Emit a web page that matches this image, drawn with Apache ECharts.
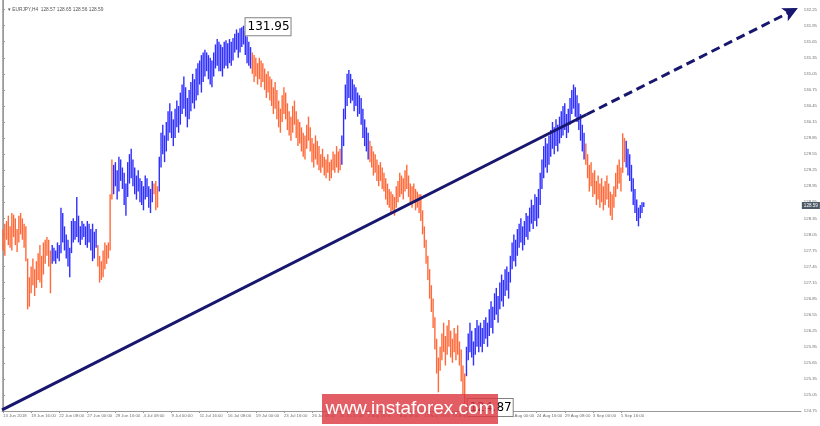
<!DOCTYPE html>
<html><head><meta charset="utf-8">
<script src="https://cdn.jsdelivr.net/npm/echarts@6/dist/echarts.min.js"></script>
<style>html,body{margin:0;padding:0;background:#fff}#c{width:820px;height:426px}</style>
</head><body><div id="c"></div>
<script>
const symbolName = 'EURJPY,H4';
const lastBar = [128.57, 128.65, 128.56, 128.59]; // open high low close
const tickLabels = ["13 Jun 2018","19 Jun 16:00","22 Jun 08:00","27 Jun 00:00","29 Jun 16:00","4 Jul 08:00","9 Jul 00:00","11 Jul 16:00","16 Jul 08:00","19 Jul 00:00","23 Jul 16:00","26 Jul 08:00","31 Jul 00:00","2 Aug 16:00","7 Aug 08:00","10 Aug 00:00","14 Aug 16:00","17 Aug 08:00","22 Aug 00:00","24 Aug 16:00","29 Aug 08:00","3 Sep 00:00","5 Sep 16:00"];
const barsPerLabel = 16;
const priceTicks = [124.75,125.05,125.35,125.65,125.95,126.25,126.55,126.85,127.15,127.45,127.75,128.05,128.35,128.65,128.95,129.25,129.55,129.85,130.15,130.45,130.75,131.05,131.35,131.65,131.95,132.25];
const lows = [
127.75,127.65,127.95,127.85,127.80,127.75,128.00,127.85,127.72,127.90,
128.05,127.95,127.80,127.55,126.65,126.70,126.95,127.10,126.90,127.05,
127.20,127.15,127.05,127.30,127.50,127.65,127.45,126.95,127.50,127.55,
127.50,127.60,127.55,127.70,127.90,127.75,127.60,127.45,127.25,127.70,
127.90,127.95,128.00,127.90,127.85,127.95,128.00,127.85,127.80,127.90,
127.75,127.55,127.60,127.80,127.45,127.15,127.20,127.25,127.40,127.50,
127.60,127.75,128.70,128.80,128.95,128.70,128.85,129.05,128.90,128.60,
128.40,128.75,129.00,129.10,128.95,128.80,128.70,128.85,128.65,128.60,
128.50,128.70,128.75,128.55,128.45,128.65,128.80,128.50,128.55,128.85,
129.30,129.55,129.40,129.60,129.80,129.95,129.85,129.70,129.85,130.05,
129.95,130.10,130.30,130.40,130.25,130.05,130.20,130.35,130.50,130.40,
130.55,130.65,130.85,130.70,130.90,131.00,131.10,130.95,130.85,130.80,
131.00,131.15,131.20,131.10,131.10,131.00,131.15,131.20,131.15,131.25,
131.20,131.30,131.45,131.50,131.35,131.45,131.55,131.60,131.40,131.25,
131.20,131.15,131.05,130.90,131.00,130.85,130.95,130.80,130.90,130.75,
130.60,130.70,130.55,130.45,130.30,130.40,130.20,130.05,129.95,130.15,
130.30,130.20,130.00,129.90,129.80,129.95,130.10,129.85,129.70,129.75,
129.60,129.50,129.45,129.65,129.80,129.60,129.40,129.30,129.45,129.35,
129.25,129.20,129.30,129.15,129.10,129.20,129.05,129.10,129.25,129.20,
129.30,129.20,129.25,129.35,129.70,130.20,130.45,130.60,130.50,130.55,
130.35,130.45,130.25,130.30,130.10,129.85,129.70,129.60,129.45,129.40,
129.30,129.15,129.20,129.05,128.95,129.05,128.90,128.85,128.70,128.60,
128.55,128.45,128.50,128.40,128.55,128.65,128.75,128.80,128.70,128.85,
128.90,128.75,128.60,128.55,128.65,128.50,128.55,128.45,128.30,128.05,
127.80,127.50,127.20,126.85,126.60,126.30,125.90,125.45,125.10,125.50,
125.70,125.85,125.60,125.80,125.95,125.75,125.65,125.85,125.70,125.80,
125.60,125.30,125.05,124.87,125.40,125.70,125.85,125.75,125.60,125.80,
125.95,125.85,125.95,125.85,126.00,126.10,125.95,126.15,126.30,126.20,
126.45,126.55,126.40,126.65,126.80,126.70,126.90,127.00,126.85,127.15,
127.40,127.55,127.45,127.65,127.80,127.90,127.75,127.85,128.00,127.95,
128.10,128.25,128.15,128.30,128.20,128.35,128.60,128.90,129.10,129.30,
129.20,129.35,129.50,129.65,129.55,129.70,129.60,129.75,129.85,129.90,
130.00,129.85,129.95,130.10,130.30,130.40,130.25,130.15,130.00,129.80,
129.60,129.45,129.35,129.10,128.85,128.95,128.75,128.80,128.60,128.70,
128.55,128.65,128.50,128.60,128.70,128.55,128.40,128.32,128.55,128.75,
128.90,129.00,128.85,129.20,129.40,129.30,129.15,129.05,128.85,128.60,
128.45,128.30,128.20,128.35,128.45,128.56];
const highs = [
128.15,128.25,128.30,128.40,128.20,128.45,128.42,128.35,128.15,128.40,
128.45,128.35,128.25,128.20,127.60,127.25,127.45,127.60,127.40,127.55,
127.70,127.85,127.65,127.90,127.95,128.00,127.95,127.75,127.85,127.80,
127.75,127.90,127.85,128.55,128.45,128.20,128.05,127.95,127.80,128.30,
128.35,128.30,128.75,128.40,128.20,128.30,128.25,128.20,128.30,128.25,
128.15,128.25,128.10,128.15,127.85,127.65,127.55,127.75,127.90,127.85,
127.90,128.80,129.45,129.35,129.40,129.25,129.50,129.45,129.30,129.20,
129.00,129.40,129.55,129.65,129.45,129.30,129.15,129.25,129.10,129.05,
128.95,129.15,129.10,128.95,128.90,129.05,129.00,129.05,128.95,129.50,
129.95,130.10,129.90,130.15,130.35,130.50,130.35,130.20,130.40,130.55,
130.45,130.70,130.85,131.00,130.80,130.60,130.75,130.90,131.05,130.95,
131.15,131.25,131.30,131.40,131.45,131.50,131.45,131.40,131.35,131.30,
131.45,131.60,131.70,131.65,131.60,131.55,131.65,131.68,131.62,131.70,
131.65,131.72,131.80,131.88,131.82,131.90,131.92,131.95,131.85,131.75,
131.65,131.55,131.45,131.40,131.35,131.25,131.35,131.30,131.25,131.15,
131.05,131.10,131.00,130.95,130.80,130.90,130.75,130.55,130.40,130.65,
130.80,130.70,130.50,130.35,130.25,130.45,130.55,130.35,130.20,130.15,
130.05,129.95,129.90,130.10,130.25,130.05,129.85,129.75,129.90,129.80,
129.70,129.55,129.65,129.50,129.45,129.55,129.40,129.45,129.60,129.55,
129.70,129.60,129.65,129.90,130.40,130.85,131.05,131.12,131.05,130.95,
130.85,130.80,130.70,130.65,130.60,130.40,130.20,130.05,129.95,129.80,
129.70,129.60,129.55,129.45,129.35,129.40,129.30,129.20,129.10,129.00,
128.90,128.85,128.80,128.75,128.95,129.05,129.20,129.15,129.10,129.25,
129.35,129.15,129.00,128.95,129.00,128.90,128.85,128.80,128.80,128.50,
128.20,127.95,127.65,127.40,127.10,126.85,126.50,126.10,125.75,125.95,
126.20,126.40,126.15,126.35,126.45,126.25,126.10,126.30,126.20,126.35,
126.05,125.90,125.60,125.45,125.95,126.20,126.40,126.25,126.05,126.30,
126.45,126.35,126.40,126.30,126.45,126.50,126.40,126.65,126.80,126.70,
126.95,127.05,126.90,127.15,127.30,127.20,127.40,127.45,127.35,127.65,
127.90,128.05,127.95,128.15,128.25,128.35,128.20,128.30,128.45,128.40,
128.55,128.70,128.60,128.80,128.75,128.90,129.20,129.45,129.70,129.85,
129.75,129.90,130.00,130.15,130.05,130.20,130.10,130.25,130.35,130.45,
130.50,130.30,130.40,130.60,130.75,130.85,130.80,130.65,130.50,130.30,
130.10,129.95,129.75,129.55,129.35,129.40,129.20,129.25,129.05,129.15,
129.00,129.10,128.95,129.05,129.15,129.00,128.85,128.80,128.95,129.20,
129.35,129.45,129.30,129.94,129.85,129.80,129.65,129.55,129.35,129.10,
128.90,128.70,128.55,128.60,128.65,128.65];
// wave segments: [first bar, last bar, direction]
const waves = [[0,27,'down'],[28,53,'up'],[54,62,'down'],[63,85,'up'],[86,88,'down'],[89,141,'up'],[142,192,'down'],[193,208,'up'],[209,263,'down'],[264,331,'up'],[332,354,'down'],[355,365,'up']];
// trend line points: [bar index, price]; solid to the 2nd point, dashed with arrow to the 3rd
const trendLine = [[-0.57,124.77],[332.4,130.29],[452.8,132.28]];
const extremes = [[137,131.95],[263,124.87]];

const BLUE = '#2f2fff', ORANGE = '#ff6a3a', NAVY = '#17176f';
const dirOf = new Array(lows.length).fill(0);
waves.forEach(w => { for (let i = w[0]; i <= w[1]; i++) dirOf[i] = w[2] === 'up' ? 1 : 0; });
const barData = lows.map((l, i) => [i, l, highs[i], dirOf[i]]);
const labelIdx = tickLabels.map((_, k) => k * barsPerLabel);
const lastClose = lastBar[3];

const chart = echarts.init(document.getElementById('c'), null, {renderer: 'canvas'});
const axisFont = {fontSize: 4.3, color: '#6f6f6f', fontFamily: 'Liberation Sans'};
chart.setOption({
  animation: false,
  backgroundColor: '#fff',
  title: {
    text: '\u25BE ' + symbolName + '  ' + lastBar.map(v => v.toFixed(2)).join(' '),
    left: 3, top: 2,
    textStyle: {fontSize: 4.8, color: '#555', fontWeight: 'normal', fontFamily: 'Liberation Sans'}
  },
  grid: {left: 2, right: 17, top: 0, bottom: 15},
  xAxis: {
    type: 'value', min: -0.6, max: 454.5,
    splitLine: {show: false},
    axisLine: {show: true, onZero: false, lineStyle: {color: '#9a9a9a', width: 1}},
    axisTick: {show: true, customValues: labelIdx, length: 2, lineStyle: {color: '#9a9a9a'}},
    axisLabel: Object.assign({customValues: labelIdx, formatter: v => tickLabels[Math.round(v / barsPerLabel)] || '', align: 'left', margin: 3}, axisFont)
  },
  yAxis: [{
    type: 'value', position: 'right', min: 124.75, max: 132.43,
    splitLine: {show: false},
    axisLine: {show: true, lineStyle: {color: '#9a9a9a', width: 1}},
    axisTick: {show: true, customValues: priceTicks, length: 2, lineStyle: {color: '#9a9a9a'}},
    axisLabel: Object.assign({customValues: priceTicks, formatter: v => v.toFixed(2), margin: 3}, axisFont)
  }, {
    type: 'value', position: 'left', min: 124.75, max: 132.43,
    splitLine: {show: false}, axisTick: {show: false}, axisLabel: {show: false},
    axisLine: {show: true, lineStyle: {color: '#b0b0b0', width: 1}}
  }],
  series: [{
    type: 'custom',
    data: barData,
    clip: false,
    renderItem: (params, api) => {
      const x = api.value(0);
      const p1 = api.coord([x, api.value(1)]);
      const p2 = api.coord([x, api.value(2)]);
      return {type: 'line', shape: {x1: p1[0], y1: p1[1], x2: p1[0], y2: p2[1]},
        style: {stroke: api.value(3) ? BLUE : ORANGE, lineWidth: 1.4}};
    },
    markPoint: {
      symbol: 'circle', symbolSize: 0, silent: true,
      data: extremes.map((e, k) => ({coord: e, value: e[1],
        label: {offset: k === 0 ? [0, 1] : [1, 3]}})),
      label: {show: true, position: 'right', distance: 2, formatter: p => p.value.toFixed(2),
        color: '#000', fontSize: 12, fontFamily: 'DejaVu Sans', backgroundColor: '#fff',
        borderColor: '#808080', borderWidth: 1, padding: [2, 1, 1, 2], lineHeight: 14}
    },
    markLine: {
      silent: true, symbol: 'none', animation: false,
      data: [
        [{coord: trendLine[0], symbol: 'none'}, {coord: trendLine[1], symbol: 'none'}],
        [{coord: trendLine[1], symbol: 'none', lineStyle: {type: [9, 5]}},
         {coord: trendLine[2], symbol: 'arrow', symbolSize: [11, 15], lineStyle: {type: [9, 5]}}],
        {yAxis: lastClose, lineStyle: {color: 'rgba(0,0,0,0)', width: 0},
         label: {show: true, position: 'end', formatter: lastClose.toFixed(2), distance: 1,
           backgroundColor: '#4d5966', color: '#fff', fontSize: 4.6, padding: [1, 2, 1, 2], fontFamily: 'Liberation Sans'}}
      ],
      lineStyle: {color: NAVY, width: 3, type: 'solid'},
      label: {show: false}
    }
  }],
  graphic: [
    {type: 'rect', x: 322, y: 394, z: 200,
     shape: {width: 176, height: 30}, style: {fill: 'rgba(221,58,66,0.82)'}},
    {type: 'text', x: 410, y: 409, z: 201,
     style: {text: 'www.instaforex.com', fill: '#fff', font: '19px "Liberation Sans"', align: 'center', verticalAlign: 'middle'}}
  ]
});
</script></body></html>
